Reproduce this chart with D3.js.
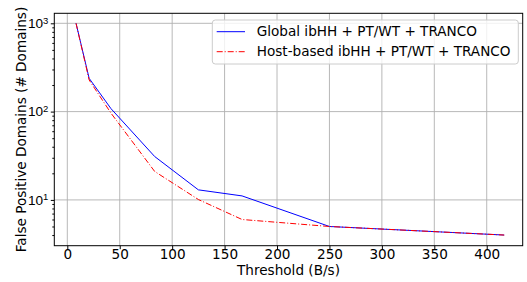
<!DOCTYPE html>
<html><head><meta charset="utf-8">
<script src="https://cdn.jsdelivr.net/npm/d3@7"></script>
<style>body{margin:0;background:#fff}svg{display:block;font-family:"DejaVu Sans",sans-serif}</style>
</head><body><svg id="c" width="527" height="282"></svg>
<script>
const thresholds = [8.33, 20.83, 41.67, 83.33, 125, 166.67, 250, 416.67];
const globalFP = [1000, 238, 108, 31, 13, 11.1, 5, 4];
const hostFP = [1000, 228, 96, 21, 10.1, 6, 5, 4];
const seriesNames = ["Global ibHH + PT/WT + TRANCO", "Host-based ibHH + PT/WT + TRANCO"];
const xTicks = [0, 50, 100, 150, 200, 250, 300, 350, 400];
const yTicks = [10, 100, 1000];
const yExp = ["1", "2", "3"];

const FS = 13.6;
const svg = d3.select("#c");
const L = 54.3, R = 522.7, T = 13.3, B = 245.7;
const x = d3.scaleLinear().domain([-12.4, 434.3]).range([L, R]);
const y = d3.scaleLog().domain([3.03, 1298]).range([B, T]);

// grid
const g = svg.append("g");
g.selectAll(".gx").data(xTicks).join("line")
  .attr("x1", d => x(d)).attr("x2", d => x(d)).attr("y1", T).attr("y2", B)
  .attr("stroke", "#b0b0b0").attr("stroke-width", 0.9);
g.selectAll(".gy").data(yTicks).join("line")
  .attr("y1", d => y(d)).attr("y2", d => y(d)).attr("x1", L).attr("x2", R)
  .attr("stroke", "#b0b0b0").attr("stroke-width", 0.9);

// axes
const xAxis = d3.axisBottom(x).tickValues(xTicks).tickSize(3.5).tickPadding(0).tickFormat(d3.format("d"));
const xg = svg.append("g").attr("transform", `translate(0,${B})`).call(xAxis);
xg.select(".domain").remove();
xg.selectAll("text").attr("font-size", FS).attr("fill", "#000").attr("font-family", "DejaVu Sans");

const minor = [];
for (let e = 0; e < 4; e++) for (let m = 2; m < 10; m++) { const v = m * Math.pow(10, e); if (v >= 3.03 && v <= 1298) minor.push(v); }
const yAxisMinor = d3.axisLeft(y).tickValues(minor).tickSize(2).tickFormat("");
const ymg = svg.append("g").attr("transform", `translate(${L},0)`).call(yAxisMinor);
ymg.select(".domain").remove();
const yAxis = d3.axisLeft(y).tickValues(yTicks).tickSize(3.5).tickFormat("");
const yg = svg.append("g").attr("transform", `translate(${L},0)`).call(yAxis);
yg.select(".domain").remove();
yg.selectAll(".tick").each(function(d, i) {
  const t = d3.select(this).append("text").attr("x", -6).attr("dy", "0.32em")
    .attr("text-anchor", "end").attr("fill", "#000").attr("font-size", FS);
  t.append("tspan").text("10");
  t.append("tspan").attr("dy", "-0.45em").attr("font-size", 9.5).text(yExp[i]);
});

svg.append("rect").attr("x", L).attr("y", T).attr("width", R - L).attr("height", B - T)
  .attr("fill", "none").attr("stroke", "#000").attr("stroke-width", 1);

// lines
const line = d3.line().x(d => x(d[0])).y(d => y(d[1]));
svg.append("path").datum(thresholds.map((t, i) => [t, globalFP[i]])).attr("d", line)
  .attr("fill", "none").attr("stroke", "#0000ff").attr("stroke-width", 1);
svg.append("path").datum(thresholds.map((t, i) => [t, hostFP[i]])).attr("d", line)
  .attr("fill", "none").attr("stroke", "#ff0000").attr("stroke-width", 1).attr("stroke-dasharray", "6,2,1,2");

// labels
svg.append("text").attr("x", (L + R) / 2).attr("y", 275).attr("text-anchor", "middle")
  .attr("font-size", FS).text("Threshold (B/s)");
svg.append("text").attr("transform", `translate(25.5,${(T + B) / 2}) rotate(-90)`).attr("text-anchor", "middle")
  .attr("font-size", FS).text("False Positive Domains (# Domains)");

// legend
const lg = svg.append("g");
lg.append("rect").attr("x", 212.3).attr("y", 20).attr("width", 306).attr("height", 44).attr("rx", 3)
  .attr("fill", "#fff").attr("fill-opacity", 0.8).attr("stroke", "#cccccc").attr("stroke-width", 1);
const styles = [{c: "#0000ff", d: null}, {c: "#ff0000", d: "6,2,1,2"}];
seriesNames.forEach((n, i) => {
  const yy = 31.7 + i * 20;
  lg.append("line").attr("x1", 216.7).attr("x2", 245).attr("y1", yy).attr("y2", yy)
    .attr("stroke", styles[i].c).attr("stroke-width", 1).attr("stroke-dasharray", styles[i].d);
  lg.append("text").attr("x", 256.7).attr("y", yy).attr("dy", "0.35em").attr("font-size", FS).text(n);
});
</script></body></html>
